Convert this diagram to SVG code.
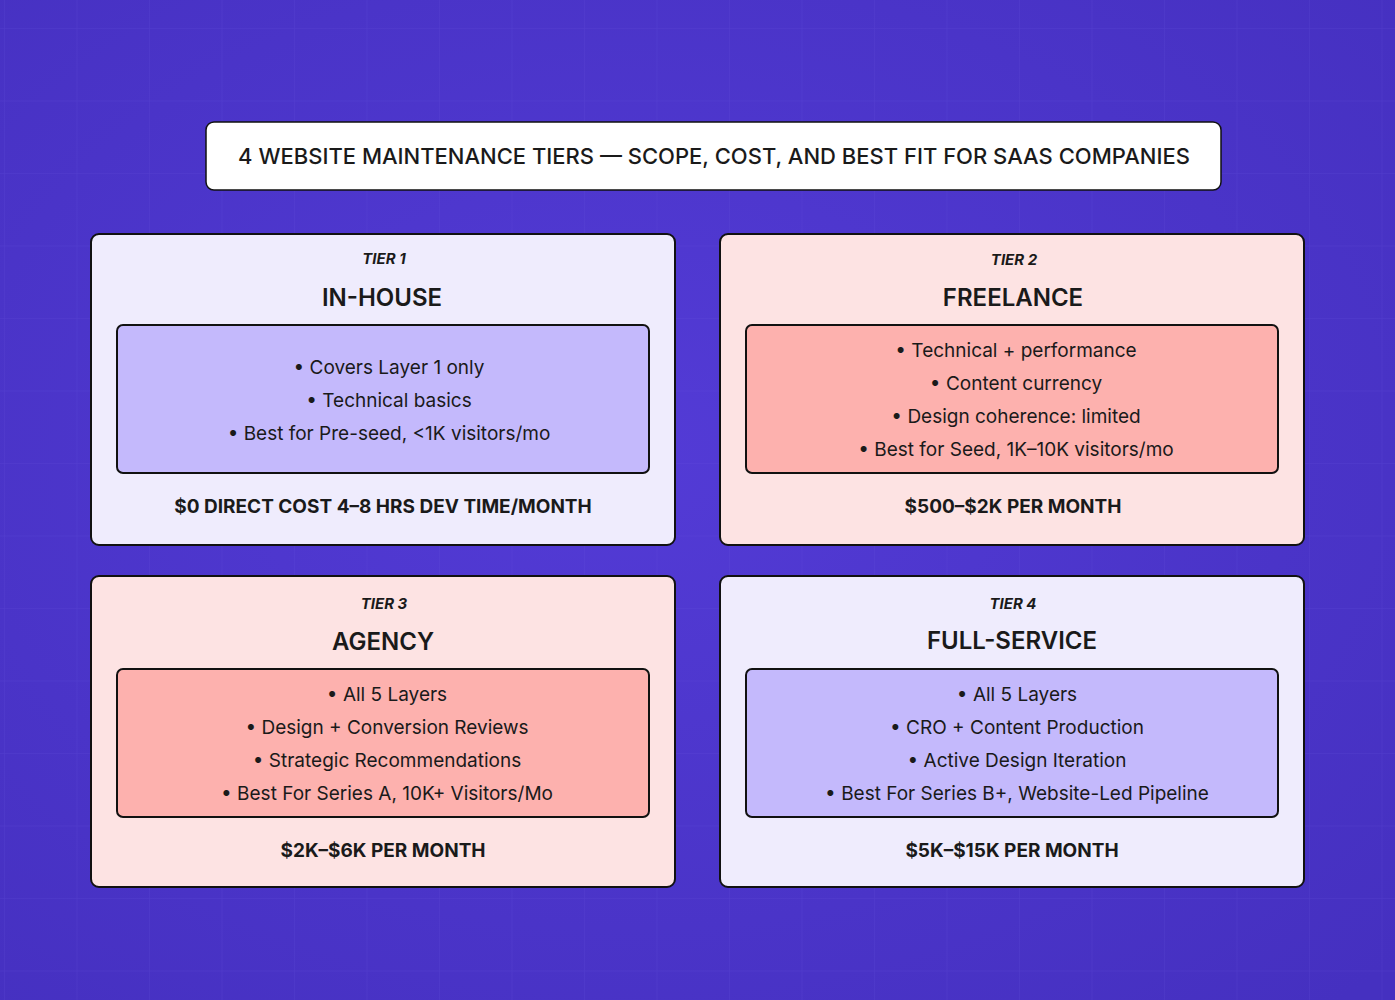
<svg xmlns="http://www.w3.org/2000/svg" width="1395" height="1000" viewBox="0 0 1395 1000">
<defs>
<radialGradient id="bg" cx="0.45" cy="0.45" r="0.75"><stop offset="0" stop-color="#533bd6"/><stop offset="1" stop-color="#4530c0"/></radialGradient>
<pattern id="grid" x="4" y="28" width="72.5" height="72.5" patternUnits="userSpaceOnUse"><path d="M0 0H72.5M0 0V72.5" stroke="#6a58e0" stroke-width="1" fill="none" opacity="0.5"/></pattern>
<style>
.card{stroke:#111;stroke-width:2}
.lav{fill:#efecfd}.pink{fill:#fde3e3}
.ilav{fill:#c4b9fc}.ipink{fill:#fdb1ae}
text{font-family:Inter,"Noto Sans",sans-serif;fill:#1a1a1a;text-anchor:middle}
.tier{font-size:15px;font-style:italic;font-weight:700}
.name{font-size:24px;font-weight:600}
.b{font-size:19px}
.cost{font-size:19px;font-weight:700}
</style>
</defs>
<rect width="1395" height="1000" fill="url(#bg)"/>
<rect width="1395" height="1000" fill="url(#grid)" opacity="0.6"/>
<g id="title"><rect x="206" y="122" width="1015" height="68" rx="8" fill="#fff" stroke="#111" stroke-width="1.5"/><text x="714" y="164" style="font-size:22px;font-weight:500">4 WEBSITE MAINTENANCE TIERS — SCOPE, COST, AND BEST FIT FOR SAAS COMPANIES</text></g>
<g id="tier1"><rect class="card lav" x="91" y="234" width="584" height="311" rx="8"/>
<text class="tier" x="384" y="264">TIER 1</text><text class="name" x="382" y="306">IN-HOUSE</text>
<rect class="card ilav" x="117" y="325" width="532" height="148" rx="6"/>
<text class="b" x="389" y="374">•  Covers Layer 1 only</text>
<text class="b" x="389" y="407">•  Technical basics</text>
<text class="b" x="389" y="440">•  Best for  Pre-seed, &lt;1K visitors/mo</text>
<text class="cost" x="383" y="513">$0 DIRECT COST 4–8 HRS DEV TIME/MONTH</text></g>
<g id="tier2"><rect class="card pink" x="720" y="234" width="584" height="311" rx="8"/>
<text class="tier" x="1014" y="265">TIER 2</text><text class="name" x="1013" y="306">FREELANCE</text>
<rect class="card ipink" x="746" y="325" width="532" height="148" rx="6"/>
<text class="b" x="1016" y="357">•  Technical + performance</text>
<text class="b" x="1016" y="390">•  Content currency</text>
<text class="b" x="1016" y="423">•  Design coherence: limited</text>
<text class="b" x="1016" y="456">•  Best for Seed, 1K–10K visitors/mo</text>
<text class="cost" x="1013" y="513">$500–$2K PER MONTH</text></g>
<g id="tier3"><rect class="card pink" x="91" y="576" width="584" height="311" rx="8"/>
<text class="tier" x="384" y="609">TIER 3</text><text class="name" x="383" y="650">AGENCY</text>
<rect class="card ipink" x="117" y="669" width="532" height="148" rx="6"/>
<text class="b" x="387" y="701">•  All 5 Layers</text>
<text class="b" x="387" y="734">•  Design + Conversion Reviews</text>
<text class="b" x="387" y="767">•  Strategic Recommendations</text>
<text class="b" x="387" y="800">•  Best For Series A, 10K+ Visitors/Mo</text>
<text class="cost" x="383" y="857">$2K–$6K PER MONTH</text></g>
<g id="tier4"><rect class="card lav" x="720" y="576" width="584" height="311" rx="8"/>
<text class="tier" x="1013" y="609">TIER 4</text><text class="name" x="1012" y="649">FULL-SERVICE</text>
<rect class="card ilav" x="746" y="669" width="532" height="148" rx="6"/>
<text class="b" x="1017" y="701">•  All 5 Layers</text>
<text class="b" x="1017" y="734">•  CRO + Content Production</text>
<text class="b" x="1017" y="767">•  Active Design Iteration</text>
<text class="b" x="1017" y="800">•  Best For Series B+, Website-Led Pipeline</text>
<text class="cost" x="1012" y="857">$5K–$15K PER MONTH</text></g>
<g id="connectors"/>
</svg>
